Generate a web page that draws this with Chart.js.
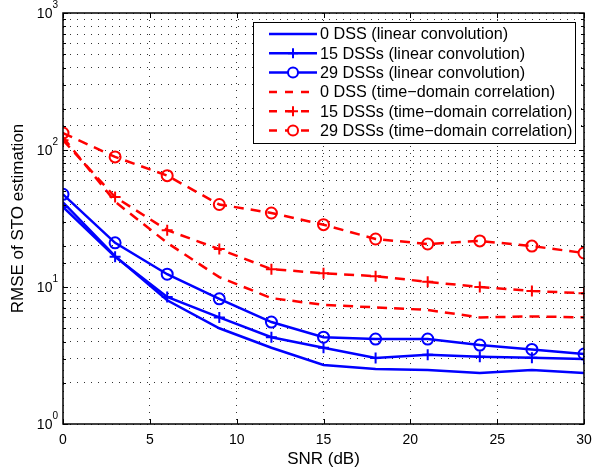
<!DOCTYPE html>
<html>
<head>
<meta charset="utf-8">
<style>
  body { margin: 0; background: #fff; }
  #wrap { width: 592px; height: 474px; }
</style>
<script src="https://cdn.jsdelivr.net/npm/chart.js@4"></script>
</head>
<body>
<div id="wrap"><canvas id="chLine" width="592" height="474"></canvas></div>
<script>
// SNR (dB) on the x axis
const snr = [0, 3, 6, 9, 12, 15, 18, 21, 24, 27, 30];

// RMSE values, linear convolution
const lc0 = [41.5, 16.8, 8.0, 5.0, 3.6, 2.7, 2.52, 2.48, 2.36, 2.48, 2.36];
const lc15 = [38.4, 16.6, 8.45, 6.0, 4.3, 3.6, 3.03, 3.2, 3.1, 3.05, 2.98];
const lc29 = [47.5, 21, 12.4, 8.2, 5.55, 4.3, 4.17, 4.17, 3.77, 3.5, 3.24];

// RMSE values, time-domain correlation
const tdc0 = [124, 42, 21, 11.8, 8.3, 7.4, 7.1, 6.8, 6.0, 6.1, 6.0];
const tdc15 = [118, 45.4, 26, 18.9, 13.5, 12.6, 12.0, 10.9, 10.0, 9.35, 9.0];
const tdc29 = [133, 89, 65, 40, 34.7, 28.5, 22.4, 20.6, 21.7, 19.9, 17.7];

const xTicks = [0, 5, 10, 15, 20, 25, 30];
const yDecades = [1, 10, 100, 1000];

const BLUE = "rgb(0, 0, 255)";
const RED = "rgb(255, 0, 0)";
const FONT = "Liberation Sans, Arial, Helvetica, sans-serif";

function pts(ys) {
  return ys.map(function (y, i) { return { x: snr[i], y: y }; });
}

function series(label, ys, color, dashed, marker) {
  return {
    label: label,
    data: pts(ys),
    borderColor: color,
    backgroundColor: color,
    borderWidth: 2.5,
    borderDash: dashed ? [10, 7] : [],
    pointStyle: marker || false,
    pointRadius: marker ? 5.5 : 0,
    pointBorderWidth: 2,
    pointBorderColor: color,
    pointBackgroundColor: "rgba(255,255,255,0)",
    tension: 0,
    fill: false,
  };
}

const datasets = [
  series("0 DSS (linear convolution)", lc0, BLUE, false, null),
  series("15 DSSs (linear convolution)", lc15, BLUE, false, "cross"),
  series("29 DSSs (linear convolution)", lc29, BLUE, false, "circle"),
  series("0 DSS (time\u2212domain correlation)", tdc0, RED, true, null),
  series("15 DSSs (time\u2212domain correlation)", tdc15, RED, true, "cross"),
  series("29 DSSs (time\u2212domain correlation)", tdc29, RED, true, "circle"),
];

// box, inward ticks, y labels with exponents, legend
const matlabLook = {
  id: "matlabLook",
  afterDraw: function (chart) {
    const ctx = chart.ctx;
    const a = chart.chartArea;
    const xs = chart.scales.x;
    const ys = chart.scales.y;
    ctx.save();
    ctx.strokeStyle = "#000";
    ctx.lineWidth = 1;

    // ticks inside the box
    ctx.beginPath();
    xTicks.forEach(function (v) {
      const px = Math.round(xs.getPixelForValue(v)) + 0.5;
      ctx.moveTo(px, a.bottom); ctx.lineTo(px, a.bottom - 5);
      ctx.moveTo(px, a.top); ctx.lineTo(px, a.top + 5);
    });
    ys.ticks.forEach(function (t) {
      const py = Math.round(ys.getPixelForValue(t.value)) + 0.5;
      const len = yDecades.indexOf(t.value) >= 0 ? 5 : 3;
      ctx.moveTo(a.left, py); ctx.lineTo(a.left + len, py);
      ctx.moveTo(a.right, py); ctx.lineTo(a.right - len, py);
    });
    ctx.stroke();

    // box
    ctx.lineWidth = 1.5;
    ctx.strokeRect(a.left, a.top, a.right - a.left, a.bottom - a.top);

    // y labels 10^n
    ctx.fillStyle = "#000";
    ctx.textBaseline = "middle";
    yDecades.forEach(function (v, n) {
      const py = ys.getPixelForValue(v);
      ctx.font = "10px " + FONT;
      ctx.textAlign = "left";
      const ew = ctx.measureText(String(n)).width;
      ctx.fillText(String(n), a.left - 5 - ew, py - 8);
      ctx.font = "14px " + FONT;
      ctx.textAlign = "right";
      ctx.fillText("10", a.left - 5 - ew, py + 1);
    });

    // legend
    const lx = 253, ly = 22, lw = 322, lh = 121;
    ctx.fillStyle = "#fff";
    ctx.fillRect(lx, ly, lw, lh);
    ctx.lineWidth = 1;
    ctx.strokeRect(lx + 0.5, ly + 0.5, lw, lh);
    chart.data.datasets.forEach(function (ds, i) {
      const cy = 34 + i * 19.3;
      ctx.strokeStyle = ds.borderColor;
      ctx.lineWidth = 2.5;
      ctx.setLineDash(ds.borderDash.length ? [8, 8] : []);
      ctx.beginPath();
      ctx.moveTo(269, cy); ctx.lineTo(317, cy);
      ctx.stroke();
      ctx.setLineDash([]);
      ctx.lineWidth = 2;
      if (ds.pointStyle === "cross") {
        ctx.beginPath();
        ctx.moveTo(293, cy - 5); ctx.lineTo(293, cy + 5);
        ctx.moveTo(288, cy); ctx.lineTo(298, cy);
        ctx.stroke();
      } else if (ds.pointStyle === "circle") {
        ctx.fillStyle = "#fff";
        ctx.beginPath();
        ctx.arc(293, cy, 5, 0, Math.PI * 2);
        ctx.fill();
        ctx.stroke();
      }
      ctx.fillStyle = "#000";
      ctx.font = "16.2px " + FONT;
      ctx.textAlign = "left";
      ctx.textBaseline = "middle";
      ctx.fillText(ds.label, 320, cy + 1);
    });
    ctx.restore();
  },
};

const config = {
  type: "line",
  data: { datasets: datasets },
  options: {
    responsive: false,
    animation: false,
    layout: { padding: { top: 13, right: 8, left: 0, bottom: 0 } },
    plugins: { legend: { display: false }, tooltip: { enabled: false } },
    scales: {
      x: {
        type: "linear",
        min: 0,
        max: 30,
        afterBuildTicks: function (s) { s.ticks = xTicks.map(function (v) { return { value: v }; }); },
        afterFit: function (s) { s.height = 50; s.paddingLeft = 0; s.paddingRight = 0; },
        grid: { color: "#333", lineWidth: 1, drawTicks: false },
        border: { display: false, dash: [1, 6] },
        ticks: { color: "#000", font: { size: 14, family: FONT }, padding: 8, maxRotation: 0 },
        title: { display: true, text: "SNR (dB)", color: "#000", font: { size: 17, family: FONT }, padding: { top: 0, bottom: 4 } },
      },
      y: {
        type: "logarithmic",
        min: 1,
        max: 1000,
        afterFit: function (s) { s.width = 63; s.paddingTop = 0; s.paddingBottom = 0; },
        grid: { color: "#333", lineWidth: 1, drawTicks: false },
        border: { display: false, dash: [1, 6] },
        ticks: { display: false },
        title: { display: true, text: "RMSE of STO estimation", color: "#000", font: { size: 17, family: FONT }, padding: { top: 8, bottom: 0 } },
      },
    },
  },
  plugins: [matlabLook],
};

var myChart = new Chart(document.getElementById("chLine"), config);
</script>
</body>
</html>
